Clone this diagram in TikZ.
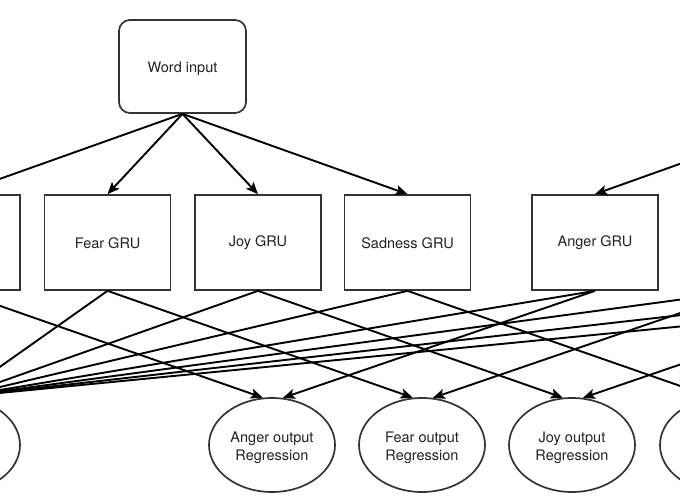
\documentclass[tikz,border=0pt]{standalone}
\usepackage{fontspec}
\setmainfont{TeX Gyre Heros}
\usetikzlibrary{arrows.meta,shapes.geometric}
\definecolor{boxgray}{HTML}{333333}
\definecolor{txt}{HTML}{222222}
\begin{document}
\begin{tikzpicture}[x=1pt,y=-1pt,
  lbl/.style={font=\fontsize{14.5}{18}\selectfont, text=txt, align=center, inner sep=0pt},
  txtc/.style={label={[lbl,yshift=-0.5pt]center:#1}},
  txtm/.style={label={[lbl,yshift=-2.5pt]center:#1}},
  grubox/.style={draw=boxgray, line width=1.7pt, minimum width=126pt, minimum height=95pt, inner sep=0pt},
  inbox/.style={grubox, rounded corners=11pt, minimum width=127pt, minimum height=93pt},
  outell/.style={ellipse, draw=boxgray, line width=1.7pt, minimum width=126pt, minimum height=94pt, inner sep=0pt},
  arr/.style={draw=black, line width=1.9pt, -{Stealth[length=12pt,width=10pt,inset=2.5pt]}}
]
\useasboundingbox (0,0) rectangle (680,500);
\fill[white] (0,0) rectangle (680,500);
\clip (0,0) rectangle (680,500);

% word inputs
\node[inbox, txtm={Word input}] (wA) at (182.5,66.5) {};
\node[inbox] (wB) at (820,66.5) {};

% GRU boxes, model A
\node[grubox] (gAA) at (-43,242.5) {};
\node[grubox, txtc={Fear GRU}] (gFA) at (107.5,242.5) {};
\node[grubox, txtc={Joy GRU}] (gJA) at (258,242.5) {};
\node[grubox, txtc={Sadness GRU}] (gSA) at (407.5,242.5) {};
% GRU boxes, model B
\node[grubox, txtc={Anger GRU}] (gAB) at (595,242.5) {};
\node[grubox] (gFB) at (745,242.5) {};
\node[grubox] (gJB) at (895,242.5) {};
\node[grubox] (gSB) at (1045,242.5) {};

% outputs
\node[outell] (oC) at (-43,445) {};
\node[outell, txtm={Anger output\\Regression}] (oA) at (272,445) {};
\node[outell, txtm={Fear output\\Regression}] (oF) at (422,445) {};
\node[outell, txtm={Joy output\\Regression}] (oJ) at (572,445) {};
\node[outell] (oS) at (723,445) {};

% input to GRUs
\foreach \g in {gAA,gFA,gJA,gSA} \draw[arr] (wA.south) -- (\g.north);
\foreach \g in {gAB,gFB,gJB,gSB} \draw[arr] (wB.south) -- (\g.north);

% GRUs to regression outputs
\draw[arr] (gAA.south) -- (oA.101);
\draw[arr] (gFA.south) -- (oF.101);
\draw[arr] (gJA.south) -- (oJ.101);
\draw[arr] (gSA.south) -- (oS.101);
\draw[arr] (gAB.south) -- (oA.77);
\draw[arr] (gFB.south) -- (oF.77);
\draw[arr] (gJB.south) -- (oJ.77);
\draw[arr] (gSB.south) -- (oS.77);

% all GRUs to the left output
\foreach \g in {gAA,gFA,gJA,gSA,gAB,gFB,gJB,gSB} \draw[arr] (\g.south) -- (oC.north);
\end{tikzpicture}
\end{document}
